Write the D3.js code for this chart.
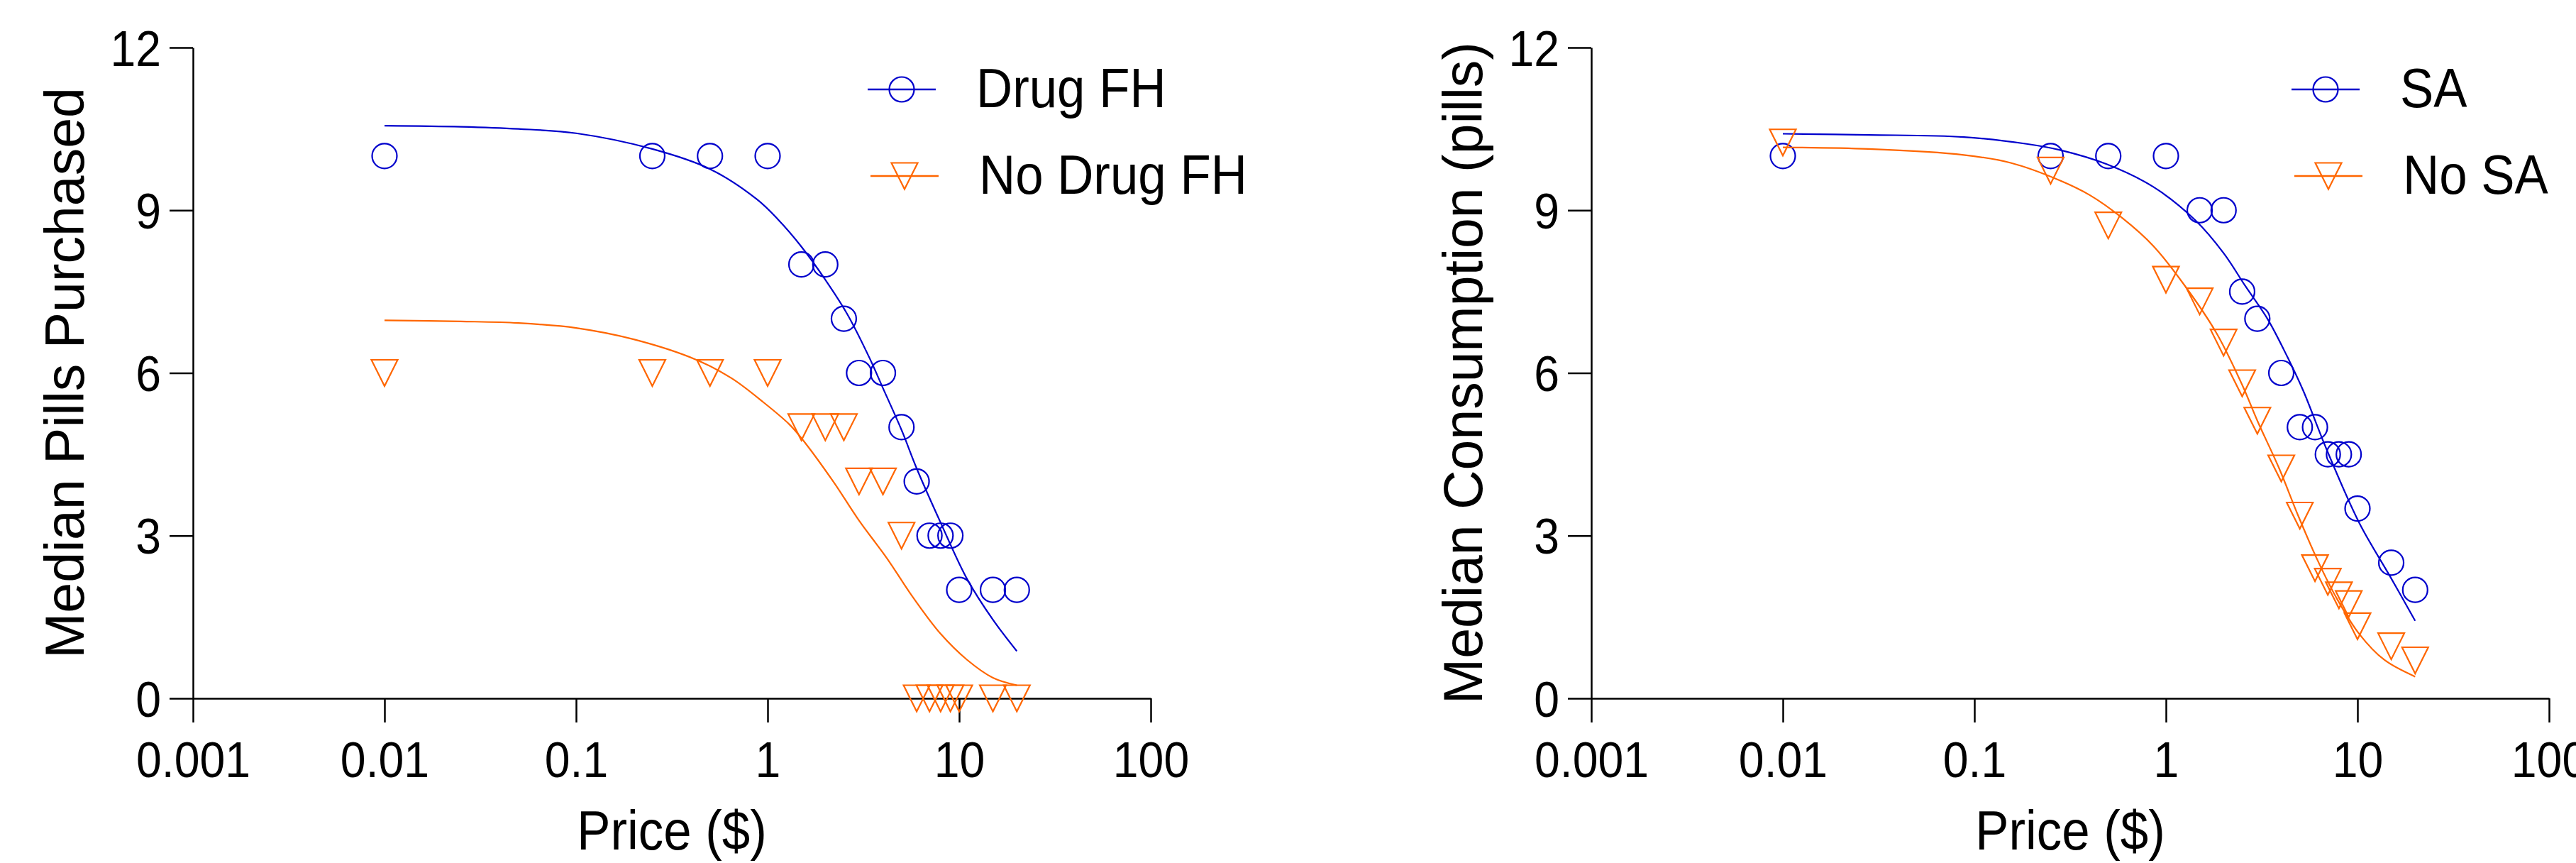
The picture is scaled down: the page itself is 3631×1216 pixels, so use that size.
<!DOCTYPE html>
<html>
<head>
<meta charset="utf-8">
<script src="https://cdn.jsdelivr.net/npm/d3@7"></script>
<style>
    body { margin: 0; background: #fff; }
    text { font-family: "Liberation Sans", Arial, sans-serif; fill: #000; }
</style>
</head>
<body>
<div id="wrapper"></div>
<script>
// 1. Data

const prices = [0.01, 0.25, 0.5, 1, 1.5, 2, 2.5, 3, 4, 5, 6, 7, 8, 9, 10, 15, 20];

const drugFH   = [10, 10, 10, 10, 8, 8, 7, 6, 6, 5, 4, 3, 3, 3, 2, 2, 2];
const noDrugFH = [6, 6, 6, 6, 5, 5, 5, 4, 4, 3, 0, 0, 0, 0, 0, 0, 0];
const sa       = [10, 10, 10, 10, 9, 9, 7.5, 7, 6, 5, 5, 4.5, 4.5, 4.5, 3.5, 2.5, 2];
const noSA     = [10.25, 9.73, 8.72, 7.72, 7.32, 6.56, 5.81, 5.12, 4.24, 3.37, 2.4, 2.15, 1.9, 1.74, 1.33, 0.96, 0.7];

// fitted demand curves, [price, value] pairs
const drugFHFit = [[0.01, 10.56], [0.025, 10.54], [0.05, 10.5], [0.1, 10.42], [0.25, 10.13],
    [0.5, 9.76], [0.88, 9.2], [1.14, 8.82], [1.5, 8.33], [2, 7.72], [2.6, 7.09], [3.4, 6.28],
    [4, 5.72], [5, 4.95], [6, 4.24], [8, 3.24], [11, 2.2], [15, 1.45], [20, 0.87]];
const noDrugFHFit = [[0.01, 6.97], [0.025, 6.95], [0.05, 6.92], [0.1, 6.83], [0.2, 6.62],
    [0.42, 6.25], [0.65, 5.9], [0.95, 5.46], [1.3, 5.05], [1.5, 4.8], [2.2, 4.0], [3, 3.28],
    [4.2, 2.58], [5.8, 1.84], [8, 1.19], [11, 0.71], [15, 0.38], [20, 0.24]];
const saFit = [[0.01, 10.41], [0.028, 10.39], [0.088, 10.35], [0.19, 10.22], [0.28, 10.11],
    [0.49, 9.85], [0.86, 9.43], [1.42, 8.82], [2, 8.21], [2.6, 7.6], [3.4, 6.99], [4.3, 6.3],
    [5.2, 5.68], [6.9, 4.59], [10.2, 3.24], [14.9, 2.23], [20, 1.43]];
const noSAFit = [[0.01, 10.16], [0.028, 10.13], [0.088, 10.02], [0.156, 9.87], [0.275, 9.56],
    [0.4, 9.28], [0.59, 8.86], [0.86, 8.34], [1.26, 7.6], [1.84, 6.73], [2.5, 5.78], [3, 5.12],
    [3.9, 4.24], [4.9, 3.37], [6.2, 2.54], [7.8, 1.84], [10.2, 1.19], [13.8, 0.71], [20, 0.4]];

const xTicks = [0.001, 0.01, 0.1, 1, 10, 100];
const xTickLabels = ["0.001", "0.01", "0.1", "1", "10", "100"];
const yTicks = [0, 3, 6, 9, 12];
const yTickLabels = ["0", "3", "6", "9", "12"];

const blue = "#0000cc";
const orange = "#ff6600";
const squeeze = 0.92; // the original font is a little narrow

// 2. Dimensions

const dimensions = {
    width: 3631,
    height: 1216,
    top: 67,
    bottom: 984,
    plotWidth: 1350
};

const wrapper = d3.select("#wrapper")
    .append("svg")
    .attr("width", dimensions.width)
    .attr("height", dimensions.height);

const circlePath = d3.symbol().type(d3.symbolCircle).size(Math.PI * 17.5 * 17.5)();
const trianglePath = "M-18.5,-18.5L18.5,-18.5L0,18.5Z";

function drawPanel(panel) {
    const bounds = wrapper.append("g")
        .attr("transform", `translate(${panel.left},0)`);

    // 3. Scales
    const xScale = d3.scaleLog()
        .domain([0.001, 100])
        .range([0, dimensions.plotWidth]);

    const yScale = d3.scaleLinear()
        .domain([0, 12])
        .range([dimensions.bottom, dimensions.top]);

    // 4. Axes
    const xAxis = bounds.append("g")
        .attr("transform", `translate(0,${dimensions.bottom})`)
        .call(d3.axisBottom(xScale)
            .tickValues(xTicks)
            .tickFormat((d, i) => xTickLabels[i])
            .tickSize(34)
            .tickSizeOuter(0));

    xAxis.selectAll("text")
        .attr("y", 111)
        .attr("dy", 0)
        .attr("transform", `scale(${squeeze},1)`)
        .style("font-size", "70px");

    const yAxis = bounds.append("g")
        .call(d3.axisLeft(yScale)
            .tickValues(yTicks)
            .tickFormat((d, i) => yTickLabels[i])
            .tickSize(33)
            .tickSizeOuter(0));

    yAxis.selectAll("text")
        .attr("x", -45 / squeeze)
        .attr("dy", "0.36em")
        .attr("transform", `scale(${squeeze},1)`)
        .style("font-size", "70px");

    bounds.selectAll(".domain, .tick line")
        .attr("stroke", "#000")
        .attr("stroke-width", 2.5);

    bounds.append("text")
        .attr("transform", `translate(${dimensions.plotWidth / 2},1197) scale(${squeeze},1)`)
        .attr("text-anchor", "middle")
        .style("font-size", "77px")
        .text("Price ($)");

    bounds.append("text")
        .attr("transform", `translate(-154,${(dimensions.top + dimensions.bottom) / 2}) rotate(-90)`)
        .attr("text-anchor", "middle")
        .style("font-size", "77px")
        .text(panel.yLabel);

    // 5. Curves and points
    const line = d3.line()
        .x(d => xScale(d[0]))
        .y(d => yScale(d[1]))
        .curve(d3.curveCatmullRom.alpha(0.5));

    panel.series.forEach(s => {
        bounds.append("path")
            .datum(s.fit)
            .attr("d", line)
            .attr("fill", "none")
            .attr("stroke", s.color)
            .attr("stroke-width", 2.2);

        bounds.append("g")
            .selectAll("path")
            .data(s.values.map((v, i) => [prices[i], v]))
            .join("path")
            .attr("transform", d => `translate(${xScale(d[0])},${yScale(d[1])})`)
            .attr("d", s.marker)
            .attr("fill", "none")
            .attr("stroke", s.color)
            .attr("stroke-width", 2.2);
    });

    // 6. Legend
    panel.series.forEach((s, i) => {
        const lx = panel.legendX + i * 4;
        const ly = 126 + i * 122;
        const item = wrapper.append("g");

        item.append("line")
            .attr("x1", lx)
            .attr("x2", lx + 96)
            .attr("y1", ly)
            .attr("y2", ly)
            .attr("stroke", s.color)
            .attr("stroke-width", 2.5);

        item.append("path")
            .attr("transform", `translate(${lx + 48},${ly})`)
            .attr("d", s.marker)
            .attr("fill", "none")
            .attr("stroke", s.color)
            .attr("stroke-width", 2.2);

        item.append("text")
            .attr("transform", `translate(${lx + 153},${ly + 25}) scale(${squeeze},1)`)
            .style("font-size", "77px")
            .text(s.name);
    });
}

drawPanel({
    left: 272,
    yLabel: "Median Pills Purchased",
    legendX: 1223,
    series: [
        { name: "Drug FH", values: drugFH, fit: drugFHFit, color: blue, marker: circlePath },
        { name: "No Drug FH", values: noDrugFH, fit: noDrugFHFit, color: orange, marker: trianglePath }
    ]
});

drawPanel({
    left: 2243,
    yLabel: "Median Consumption (pills)",
    legendX: 3230,
    series: [
        { name: "SA", values: sa, fit: saFit, color: blue, marker: circlePath },
        { name: "No SA", values: noSA, fit: noSAFit, color: orange, marker: trianglePath }
    ]
});
</script>
</body>
</html>
